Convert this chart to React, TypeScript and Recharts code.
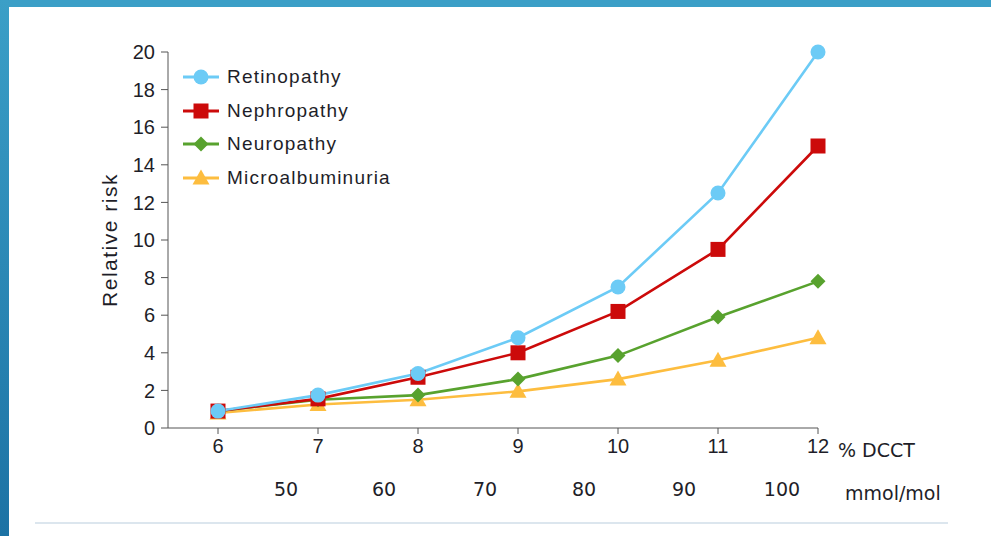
import React from "react";
import { Label, Line, LineChart, XAxis, YAxis } from "recharts";

const hba1c = [6, 7, 8, 9, 10, 11, 12];
const retinopathy = [0.9, 1.75, 2.9, 4.8, 7.5, 12.5, 20];
const nephropathy = [0.9, 1.55, 2.7, 4.0, 6.2, 9.5, 15];
const neuropathy = [0.9, 1.5, 1.75, 2.6, 3.85, 5.9, 7.8];
const microalbuminuria = [0.8, 1.25, 1.5, 1.95, 2.6, 3.6, 4.8];

const yTicks = [0, 2, 4, 6, 8, 10, 12, 14, 16, 18, 20];
// mmol/mol labels sit at these % DCCT positions
const mmolPos = [6.68, 7.66, 8.67, 9.66, 10.66, 11.64];
const mmolLabels = ["50", "60", "70", "80", "90", "100"];

const data = hba1c.map((x, i) => ({
  x,
  retinopathy: retinopathy[i],
  nephropathy: nephropathy[i],
  neuropathy: neuropathy[i],
  microalbuminuria: microalbuminuria[i],
}));

const COLORS = {
  retinopathy: "#6ccbf6",
  nephropathy: "#cc0a0a",
  neuropathy: "#58a22e",
  microalbuminuria: "#fdbd3f",
};

const FONT = "'Liberation Sans', Arial, sans-serif";
const FONT2 = "'DejaVu Sans', Verdana, sans-serif";
const TXT = "#1e1e28";

function Marker({ kind, cx, cy, color }: any) {
  if (cx == null || cy == null) return null;
  if (kind === "circle") return <circle cx={cx} cy={cy} r={7.5} fill={color} />;
  if (kind === "square")
    return <rect x={cx - 7.5} y={cy - 7.5} width={15} height={15} fill={color} />;
  if (kind === "diamond")
    return (
      <polygon
        points={`${cx},${cy - 7.5} ${cx + 7.5},${cy} ${cx},${cy + 7.5} ${cx - 7.5},${cy}`}
        fill={color}
      />
    );
  return (
    <polygon
      points={`${cx},${cy - 8.5} ${cx + 8.5},${cy + 6.5} ${cx - 8.5},${cy + 6.5}`}
      fill={color}
    />
  );
}

const series = [
  { key: "retinopathy", name: "Retinopathy", kind: "circle" },
  { key: "nephropathy", name: "Nephropathy", kind: "square" },
  { key: "neuropathy", name: "Neuropathy", kind: "diamond" },
  { key: "microalbuminuria", name: "Microalbuminuria", kind: "triangle" },
];

function LegendBox() {
  return (
    <div
      style={{
        position: "absolute",
        left: 183,
        top: 60,
        fontFamily: FONT,
        fontSize: 19,
        letterSpacing: 1.2,
        color: TXT,
      }}
    >
      {series.map((s) => {
        const c = (COLORS as any)[s.key];
        return (
          <div
            key={s.key}
            style={{ display: "flex", alignItems: "center", height: 33.7 }}
          >
            <svg width={40} height={20} style={{ marginRight: 4 }}>
              <line x1={0} y1={10} x2={36} y2={10} stroke={c} strokeWidth={3} />
              <Marker kind={s.kind} cx={18} cy={10} color={c} />
            </svg>
            <span>{s.name}</span>
          </div>
        );
      })}
    </div>
  );
}

export default function App() {
  return (
    <div
      style={{
        position: "fixed",
        left: 0,
        top: 0,
        width: 991,
        height: 536,
        background: "#ffffff",
        overflow: "hidden",
      }}
    >
      <div
        style={{
          position: "absolute",
          left: 0,
          top: 0,
          width: 991,
          height: 7,
          background: "#3b9fc7",
        }}
      />
      <div
        style={{
          position: "absolute",
          left: 0,
          top: 0,
          width: 9,
          height: 536,
          background: "linear-gradient(#3b9fc7, #1c72a4)",
        }}
      />
      <div
        style={{
          position: "absolute",
          left: 35,
          top: 522,
          width: 913,
          height: 2,
          background: "#dce6ee",
        }}
      />
      <LineChart
        width={991}
        height={536}
        data={data}
        margin={{ top: 52, right: 173, left: 88, bottom: 23 }}
        style={{ position: "absolute", left: 0, top: 0 }}
      >
        <XAxis
          dataKey="x"
          type="number"
          domain={[5.5, 12]}
          ticks={hba1c}
          height={45}
          tickSize={6}
          tickMargin={5}
          stroke="#555"
          tick={{ fill: TXT, fontSize: 20, fontFamily: FONT }}
        >
          <Label
            position="right"
            offset={20}
            value="% DCCT"
            fill={TXT}
            fontSize={19}
            fontFamily={FONT2}
          />
        </XAxis>
        <XAxis
          xAxisId="mmol"
          type="number"
          dataKey="x"
          domain={[5.5, 12]}
          ticks={mmolPos}
          tickFormatter={(v: number) => mmolLabels[mmolPos.indexOf(v)]}
          height={40}
          axisLine={false}
          tickLine={false}
          tickSize={0}
          tickMargin={10}
          tick={{ fill: TXT, fontSize: 19, fontFamily: FONT2 }}
        >
          <Label
            position="right"
            offset={27}
            value="mmol/mol"
            fill={TXT}
            fontSize={19}
            fontFamily={FONT2}
          />
        </XAxis>
        <YAxis
          domain={[0, 20]}
          ticks={yTicks}
          width={80}
          tickSize={7}
          tickMargin={6}
          stroke="#555"
          interval={0}
          tick={{ fill: TXT, fontSize: 20, fontFamily: FONT }}
          label={{
            content: ({ viewBox }: any) => {
              const x = viewBox.x + 21;
              const y = viewBox.y + viewBox.height / 2;
              return (
                <text
                  x={x}
                  y={y}
                  transform={`rotate(-90 ${x} ${y})`}
                  textAnchor="middle"
                  dominantBaseline="central"
                  fill={TXT}
                  fontSize={21}
                  fontFamily={FONT}
                  letterSpacing={1.5}
                >
                  Relative risk
                </text>
              );
            },
          }}
        />
        {[...series].reverse().map((s) => {
          const c = (COLORS as any)[s.key];
          return (
            <Line
              key={s.key}
              dataKey={s.key}
              name={s.name}
              stroke={c}
              strokeWidth={2.6}
              isAnimationActive={false}
              dot={(p: any) => (
                <Marker
                  key={`${s.key}-${p.index}`}
                  kind={s.kind}
                  cx={p.cx}
                  cy={p.cy}
                  color={c}
                />
              )}
              activeDot={false}
            />
          );
        })}
      </LineChart>
      <LegendBox />
    </div>
  );
}
